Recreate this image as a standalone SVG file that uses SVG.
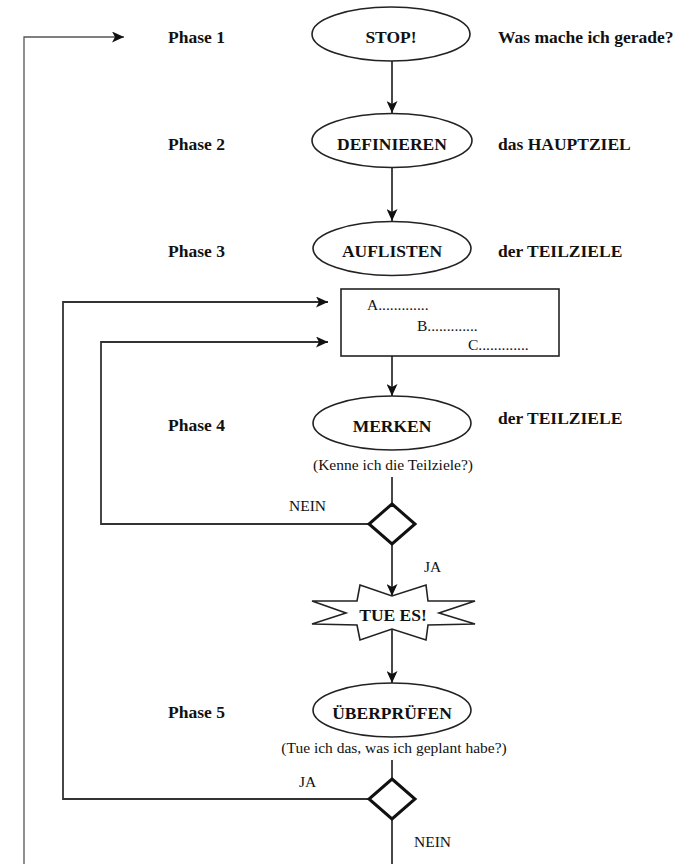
<svg xmlns="http://www.w3.org/2000/svg" width="674" height="864" viewBox="0 0 674 864">
<style>
.b{font-family:"Liberation Serif","Times New Roman",serif;font-weight:bold;font-size:17.5px;fill:#111}
.r{font-family:"Liberation Serif","Times New Roman",serif;font-size:15.5px;fill:#111}
.c{text-anchor:middle}
.sh{fill:#fff;stroke:#222;stroke-width:1.6}
.dia{fill:#fff;stroke:#111;stroke-width:3}
.ln{fill:none;stroke:#333;stroke-width:1.8}
.lo{fill:none;stroke:#555;stroke-width:1.3}
</style>
<defs>
<marker id="ah" markerUnits="userSpaceOnUse" markerWidth="13" markerHeight="11" refX="12" refY="5.5" orient="auto">
<path d="M0,0 L12,5.5 L0,11 L3,5.5 z" fill="#111"/>
</marker>
</defs>
<rect width="674" height="864" fill="#fff"/>
<g id="connectors">
<path class="lo" d="M24,864 L24,37 L124,37" marker-end="url(#ah)"/>
<path class="ln" d="M392,61 L392,113" marker-end="url(#ah)"/>
<path class="ln" d="M392,168 L392,221" marker-end="url(#ah)"/>
<path class="ln" d="M392,356 L392,396" marker-end="url(#ah)"/>
<path class="ln" d="M392,477 L392,504"/>
<path class="ln" d="M369,524 L101,524 L101,342 L328,342" marker-end="url(#ah)"/>
<path class="ln" d="M392,544 L392,596" marker-end="url(#ah)"/>
<path class="ln" d="M392,629 L392,683" marker-end="url(#ah)"/>
<path class="ln" d="M392,760 L392,779"/>
<path class="ln" d="M369,799 L63,799 L63,302 L328,302" marker-end="url(#ah)"/>
<path class="ln" d="M392,819 L392,864"/>
</g>
<g id="labels">
<text class="b" x="168" y="43">Phase 1</text>
<text class="b" x="498" y="43">Was mache ich gerade?</text>
<text class="b" x="168" y="150">Phase 2</text>
<text class="b" x="498" y="150">das HAUPTZIEL</text>
<text class="b" x="168" y="257">Phase 3</text>
<text class="b" x="498" y="257">der TEILZIELE</text>
<text class="b" x="168" y="431">Phase 4</text>
<text class="b" x="498" y="424">der TEILZIELE</text>
<text class="b" x="168" y="718">Phase 5</text>
<text class="r c" x="393" y="470">(Kenne ich die Teilziele?)</text>
<text class="r" x="289" y="511">NEIN</text>
<text class="r" x="424" y="572">JA</text>
<text class="r c" x="394" y="753">(Tue ich das, was ich geplant habe?)</text>
<text class="r" x="299" y="787">JA</text>
<text class="r" x="414" y="847">NEIN</text>
</g>
<g id="stop">
<ellipse class="sh" cx="391" cy="34" rx="79" ry="27"/>
<text class="b c" x="391" y="43">STOP!</text>
</g>
<g id="definieren">
<ellipse class="sh" cx="392" cy="140.5" rx="80" ry="27"/>
<text class="b c" x="392" y="150">DEFINIEREN</text>
</g>
<g id="auflisten">
<ellipse class="sh" cx="392" cy="248.5" rx="79" ry="27"/>
<text class="b c" x="392" y="257">AUFLISTEN</text>
</g>
<g id="liste">
<rect class="sh" x="341" y="289" width="218" height="67"/>
<text class="r" x="367" y="310">A.............</text>
<text class="r" x="417" y="331">B.............</text>
<text class="r" x="468" y="350">C.............</text>
</g>
<g id="merken">
<ellipse class="sh" cx="392" cy="423" rx="79" ry="27"/>
<text class="b c" x="392" y="432">MERKEN</text>
</g>
<g id="entscheidung1">
<polygon class="dia" points="392,504 415,524 392,544 369,524"/>
</g>
<g id="tuees">
<polygon class="sh" points="360,585 392,596 426,585 428,601 475,601 439,613 475,624 428,625 426,640 392,629 360,640 357,625 312,624 346,613 312,601 357,601"/>
<text class="b c" x="393" y="621">TUE ES!</text>
</g>
<g id="ueberpruefen">
<ellipse class="sh" cx="392" cy="710" rx="79" ry="27"/>
<text class="b c" x="392" y="719">ÜBERPRÜFEN</text>
</g>
<g id="entscheidung2">
<polygon class="dia" points="392,779 415,799 392,819 369,799"/>
</g>
</svg>
